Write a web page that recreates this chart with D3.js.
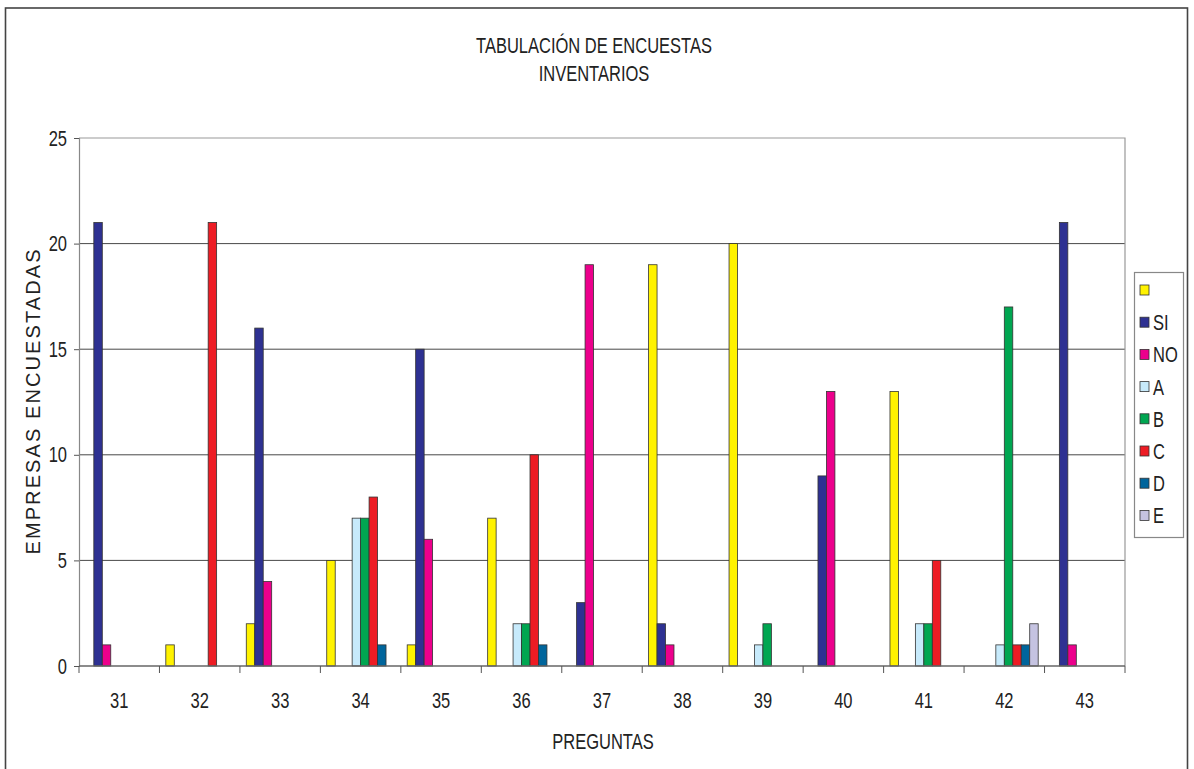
<!DOCTYPE html>
<html>
<head>
<meta charset="utf-8">
<script src="https://cdn.jsdelivr.net/npm/d3@7"></script>
<style>
  html, body { margin: 0; padding: 0; background: #fff; }
  svg { display: block; }
  text { font-family: "Liberation Sans", Arial, sans-serif; fill: #222; }
</style>
</head>
<body>
<svg id="chart" width="1194" height="769"></svg>
<script>
// Question numbers along the x axis
const categories = ["31", "32", "33", "34", "35", "36", "37", "38", "39", "40", "41", "42", "43"];

// Answer series (legend order)
const seriesNames = ["", "SI", "NO", "A", "B", "C", "D", "E"];

// Number of surveyed companies per answer, per question
const valsBlank = [0, 1, 2, 5, 1, 7, 0, 19, 20, 0, 13, 0, 0];
const valsSI    = [21, 0, 16, 0, 15, 0, 3, 2, 0, 9, 0, 0, 21];
const valsNO    = [1, 0, 4, 0, 6, 0, 19, 1, 0, 13, 0, 0, 1];
const valsA     = [0, 0, 0, 7, 0, 2, 0, 0, 1, 0, 2, 1, 0];
const valsB     = [0, 0, 0, 7, 0, 2, 0, 0, 2, 0, 2, 17, 0];
const valsC     = [0, 21, 0, 8, 0, 10, 0, 0, 0, 0, 5, 1, 0];
const valsD     = [0, 0, 0, 1, 0, 1, 0, 0, 0, 0, 0, 1, 0];
const valsE     = [0, 0, 0, 0, 0, 0, 0, 0, 0, 0, 0, 2, 0];

const yTicks = [0, 5, 10, 15, 20, 25];

const colors = ["#FFF200", "#2E3192", "#EC008C", "#C7EAFB", "#00A651", "#ED1C24", "#00659C", "#C5C3E1"];

const seriesValues = [valsBlank, valsSI, valsNO, valsA, valsB, valsC, valsD, valsE];

// Narrow-face look: squeeze each label horizontally around its anchor
function condense(sel, k) {
  sel.each(function () {
    const w = this.getComputedTextLength();
    if (w > 0) d3.select(this).attr("textLength", w * k).attr("lengthAdjust", "spacingAndGlyphs");
  });
}
const FS = 22;
const NARROW = 0.75;

const svg = d3.select("#chart");

// Outer chart frame
svg.append("rect")
  .attr("x", 5.5).attr("y", 8).attr("width", 1182).attr("height", 775)
  .attr("fill", "#fff").attr("stroke", "#444").attr("stroke-width", 1.6);

const plot = { left: 79, right: 1125, top: 138, bottom: 666 };

const x0 = d3.scaleBand().domain(categories).range([plot.left, plot.right]).padding(0);
const x1 = d3.scaleBand().domain(d3.range(seriesNames.length))
  .range([0, x0.bandwidth()]).paddingInner(0).paddingOuter(0.75);
const y = d3.scaleLinear().domain([0, 25]).range([plot.bottom, plot.top]);

// Horizontal gridlines
svg.append("g").selectAll("line").data(yTicks.filter(d => d > 0 && d < 25)).join("line")
  .attr("x1", plot.left).attr("x2", plot.right)
  .attr("y1", d => y(d)).attr("y2", d => y(d))
  .attr("stroke", "#333").attr("stroke-width", 0.9);

// Plot area border (top and right)
svg.append("path")
  .attr("d", `M${plot.left},${plot.top}H${plot.right}V${plot.bottom}`)
  .attr("fill", "none").attr("stroke", "#999").attr("stroke-width", 1.2);

// Bars
const barData = [];
seriesValues.forEach((vals, si) => {
  vals.forEach((v, ci) => { if (v > 0) barData.push({ s: si, c: categories[ci], v }); });
});
svg.append("g").selectAll("rect").data(barData).join("rect")
  .attr("x", d => x0(d.c) + x1(d.s))
  .attr("width", x1.bandwidth())
  .attr("y", d => y(d.v))
  .attr("height", d => y(0) - y(d.v))
  .attr("fill", d => colors[d.s])
  .attr("stroke", "#333").attr("stroke-width", 0.8);

// Y axis
const yAxis = d3.axisLeft(y).tickValues(yTicks).tickSize(5).tickPadding(7);
const gy = svg.append("g").attr("transform", `translate(${plot.left},0)`).call(yAxis);
gy.select(".domain").attr("stroke", "#888").attr("stroke-width", 1.2);
gy.selectAll(".tick line").attr("stroke", "#555");
gy.selectAll(".tick text").attr("font-size", FS).attr("fill", "#222").call(condense, NARROW);

// X axis: ticks at category boundaries, labels centered on categories
const gx = svg.append("g");
gx.append("line")
  .attr("x1", plot.left).attr("x2", plot.right)
  .attr("y1", plot.bottom).attr("y2", plot.bottom)
  .attr("stroke", "#666").attr("stroke-width", 1.4);
const boundaries = categories.map(c => x0(c)).concat([x0(categories[categories.length - 1]) + x0.bandwidth()]);
gx.selectAll("line.tick").data(boundaries).join("line").attr("class", "tick")
  .attr("x1", d => d).attr("x2", d => d)
  .attr("y1", plot.bottom).attr("y2", plot.bottom + 7)
  .attr("stroke", "#555");
gx.selectAll("text").data(categories).join("text")
  .attr("x", d => x0(d) + x0.bandwidth() / 2)
  .attr("y", 708)
  .attr("text-anchor", "middle")
  .attr("font-size", FS)
  .text(d => d)
  .call(condense, NARROW);

// Titles
svg.append("text").attr("x", 594).attr("y", 53).attr("text-anchor", "middle")
  .attr("font-size", FS).text("TABULACIÓN DE ENCUESTAS").call(condense, NARROW);
svg.append("text").attr("x", 594).attr("y", 81).attr("text-anchor", "middle")
  .attr("font-size", FS).text("INVENTARIOS").call(condense, NARROW);
svg.append("text").attr("x", 603).attr("y", 749).attr("text-anchor", "middle")
  .attr("font-size", FS).text("PREGUNTAS").call(condense, NARROW);
svg.append("text")
  .attr("transform", `translate(40,${(plot.top + plot.bottom) / 2}) rotate(-90)`)
  .attr("text-anchor", "middle")
  .attr("font-size", 20)
  .attr("textLength", 305)
  .attr("lengthAdjust", "spacing")
  .text("EMPRESAS ENCUESTADAS");

// Legend
const lg = svg.append("g");
lg.append("rect").attr("x", 1134.5).attr("y", 272.5).attr("width", 49).attr("height", 265)
  .attr("fill", "#fff").attr("stroke", "#888").attr("stroke-width", 1.2);
const items = lg.selectAll("g.item").data(seriesNames).join("g").attr("class", "item")
  .attr("transform", (d, i) => `translate(1140,${290 + i * 32.2})`);
items.append("rect").attr("x", 0).attr("y", -5).attr("width", 9).attr("height", 10)
  .attr("fill", (d, i) => colors[i]).attr("stroke", "#333").attr("stroke-width", 0.8);
items.append("text").attr("x", 13).attr("y", 8).attr("font-size", FS).text(d => d)
  .call(condense, NARROW);
</script>
</body>
</html>
